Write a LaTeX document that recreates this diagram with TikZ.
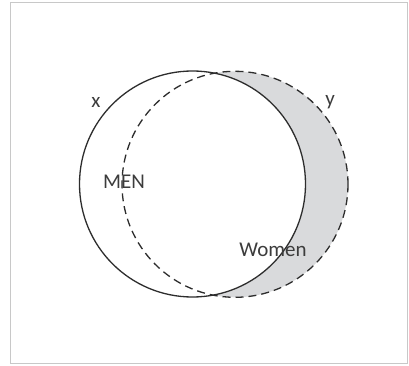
\documentclass[tikz,border=0pt]{standalone}
\usepackage{fontspec}
\setmainfont{Carlito}
\usepackage{xcolor}
\usepackage{tikz}
\usetikzlibrary{positioning,calc}
\definecolor{vennline}{RGB}{45,45,45}
\definecolor{venntext}{RGB}{60,60,60}
\definecolor{vennfill}{RGB}{217,218,220}
\definecolor{vennframe}{RGB}{200,200,200}

\begin{document}
\begin{tikzpicture}[
    x=1pt, y=-1pt,
    font=\fontsize{21}{25}\selectfont,
    frame/.style={draw=vennframe, line width=0.8pt},
    setx/.style={draw=vennline, line width=1.3pt},
    sety/.style={draw=vennline, line width=1.3pt, dashed, dash pattern=on 8pt off 5pt},
    onlyy/.style={fill=vennfill},
    lbl/.style={text=venntext, inner sep=0pt}
  ]
    \useasboundingbox (0,0) rectangle (409,366);
    \draw[frame] (10,2) rectangle (407,363);

    \coordinate (cx) at (192.5,184);
    \coordinate (cy) at (235,184.3);

    % y without x
    \fill[onlyy] (cy) circle[radius=113];
    \fill[white] (cx) circle[radius=113];

    \draw[setx] (cx) circle[radius=113];
    \draw[sety] (cy) circle[radius=113];

    \node[lbl] (xlabel) at (96,102) {x};
    \node[lbl] (ylabel) at (330,102) {y};
    \node[lbl] (men) at (124,182) {MEN};
    \node[lbl] (women) at (273,250) {Women};
  \end{tikzpicture}
\end{document}
